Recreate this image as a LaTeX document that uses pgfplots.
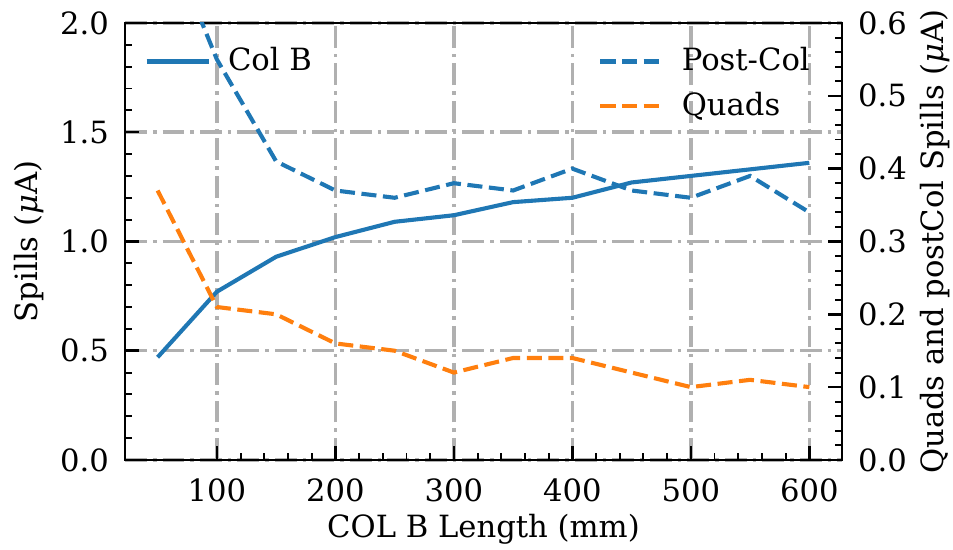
\documentclass[border=0pt]{standalone}
\usepackage{fontspec}
\setmainfont{DejaVu Serif}
\usepackage{pgfplots}
\pgfplotsset{compat=1.18}

\definecolor{tabblue}{HTML}{1F77B4}
\definecolor{taborange}{HTML}{FF7F0E}
\definecolor{gridgray}{HTML}{B0B0B0}

\pgfplotsset{
  common/.style={
    scale only axis,
    width=262pt, height=159.7pt,
    xmin=22.5, xmax=627.5,
    tick align=inside,
    major tick length=5pt,
    minor tick length=2.5pt,
    tick style={black, line width=0.9pt},
    minor tick style={black, line width=0.7pt},
    axis line style={line width=1pt},
    /pgf/number format/assume math mode=true,
    legend style={draw=none, fill=none, row sep=2pt},
    legend cell align=left,
    legend image code/.code={\draw[#1] (0pt,0pt) -- (22.7pt,0pt); \path (27pt,0pt);},
  },
  onedec/.style={
    /pgf/number format/fixed,
    /pgf/number format/fixed zerofill,
    /pgf/number format/precision=1,
  },
}

\begin{document}
\fontsize{11.2pt}{13.4pt}\selectfont
\begin{tikzpicture}
  \begin{axis}[
    common,
    name=ax,
    ymin=0, ymax=2.0,
    xtick={100,200,300,400,500,600},
    ytick={0,0.5,1.0,1.5,2.0},
    minor x tick num=4,
    minor y tick num=4,
    xtick pos=bottom,
    ytick pos=left,
    yticklabel style={onedec, xshift=-2pt},
    xticklabel style={yshift=-3pt},
    xlabel={COL B Length (mm)},
    ylabel={Spills (\textit{μ}A)},
    xlabel style={at={(axis description cs:0.5,0)}, anchor=center, yshift=-25.5pt},
    ylabel style={at={(axis description cs:0,0.5)}, anchor=center, rotate=0, yshift=35pt},
    grid=major,
    major grid style={gridgray, line width=1.3pt, dash pattern=on 8pt off 2.2pt on 1.3pt off 2.2pt},
    legend style={at={(0.015,0.97)}, anchor=north west},
  ]
    \addplot[tabblue, line width=1.5pt] coordinates {
      (50,0.47) (100,0.77) (150,0.93) (200,1.02) (250,1.09) (300,1.12)
      (350,1.18) (400,1.20) (450,1.27) (500,1.30) (550,1.33) (600,1.36)
    };
    \addlegendentry{Col B}
  \end{axis}
  \begin{axis}[
    common,
    ymin=0, ymax=0.6,
    axis x line=none,
    ytick={0,0.1,0.2,0.3,0.4,0.5,0.6},
    minor y tick num=4,
    ytick pos=right,
    yticklabel pos=right,
    yticklabel style={onedec, xshift=2pt},
    ylabel={Quads and postCol Spills (\textit{μ}A)},
    ylabel style={at={(axis description cs:1,0.5)}, anchor=center, rotate=0, yshift=-34pt},
    legend style={at={(0.975,0.97)}, anchor=north east},
  ]
    \addplot[tabblue, line width=1.5pt, dash pattern=on 5.5pt off 2.4pt] coordinates {
      (50,0.75) (100,0.55) (150,0.41) (200,0.37) (250,0.36) (300,0.38)
      (350,0.37) (400,0.40) (450,0.37) (500,0.36) (550,0.39) (600,0.34)
    };
    \addlegendentry{Post-Col}
    \addplot[taborange, line width=1.5pt, dash pattern=on 5.5pt off 2.4pt] coordinates {
      (50,0.37) (100,0.21) (150,0.20) (200,0.16) (250,0.15) (300,0.12)
      (350,0.14) (400,0.14) (450,0.12) (500,0.10) (550,0.11) (600,0.10)
    };
    \addlegendentry{Quads}
  \end{axis}
  \pgfresetboundingbox
  \path ([shift={(-45.7pt,-32.9pt)}]ax.south west) rectangle ([shift={(40.6pt,8.4pt)}]ax.north east);
\end{tikzpicture}
\end{document}
